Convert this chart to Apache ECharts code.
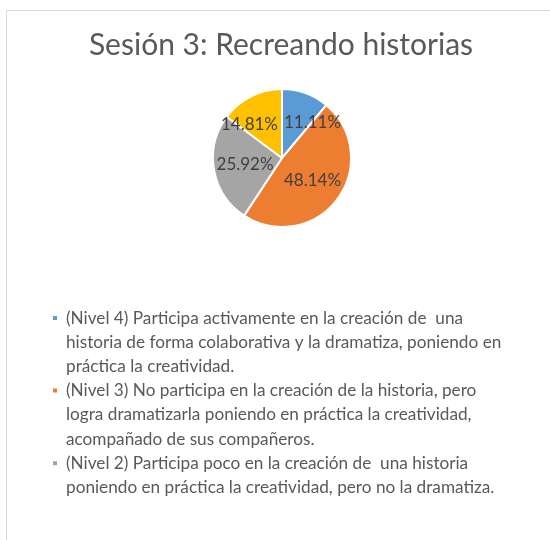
<!DOCTYPE html>
<html>
<head>
<meta charset="utf-8">
<script src="https://cdn.jsdelivr.net/npm/echarts@6/dist/echarts.min.js"></script>
<style>
    html, body { margin: 0; padding: 0; background: #fff; width: 550px; height: 540px; overflow: hidden; }
    #frame { position: absolute; left: 6px; top: 10px; width: 600px; height: 600px; border: 1px solid #d9d9d9; }
    #chart { position: absolute; left: 6px; top: 10px; width: 550px; height: 530px; }
</style>
</head>
<body>
<div id="frame"></div>
<div id="chart"></div>
<script>
const TITLE = 'Sesión 3: Recreando historias';

const levels = ['Nivel 4', 'Nivel 3', 'Nivel 2', 'Nivel 1'];
const shares = [11.11, 48.14, 25.92, 14.81];
const colors = ['#5b9bd5', '#ed7d31', '#a5a5a5', '#ffc000'];

// legend text, already wrapped like the original
const legendLines = {
    'Nivel 4': [
        '(Nivel 4) Participa activamente en la creación de  una',
        'historia de forma colaborativa y la dramatiza, poniendo en',
        'práctica la creatividad.',
    ],
    'Nivel 3': [
        '(Nivel 3) No participa en la creación de la historia, pero',
        'logra dramatizarla poniendo en práctica la creatividad,',
        'acompañado de sus compañeros.',
    ],
    'Nivel 2': [
        '(Nivel 2) Participa poco en la creación de  una historia',
        'poniendo en práctica la creatividad, pero no la dramatiza.',
    ],
};
const shownInLegend = ['Nivel 4', 'Nivel 3', 'Nivel 2'];

const LINE_H = 24.2;
const FONT = 'Lato, "Open Sans", sans-serif';

// legend text is centred on the marker, so pad with blank lines
// to keep the marker next to the first line
function legendText(name) {
    const lines = legendLines[name] || [name];
    const padded = ['', ''].concat(lines);
    while (padded.length < 5) padded.push('');
    return padded.join('\n');
}

const chart = echarts.init(document.getElementById('chart'));
const cx = 276, cy = 148;

chart.setOption({
    backgroundColor: 'transparent',
    animation: false,
    color: colors,
    title: {
        text: TITLE,
        left: 'center',
        top: 15,
        textStyle: { color: '#595959', fontSize: 30, fontWeight: 'normal', fontFamily: FONT },
    },
    legend: {
        data: shownInLegend,
        orient: 'vertical',
        left: 45,
        top: 308 - 2.5 * LINE_H,
        padding: 0,
        itemWidth: 6,
        itemHeight: 6,
        itemGap: -2 * LINE_H,
        icon: 'rect',
        formatter: legendText,
        textStyle: { color: '#595959', fontSize: 17.2, fontFamily: FONT, lineHeight: LINE_H, padding: [0, 0, 0, 3] },
    },
    series: [{
        type: 'pie',
        center: [cx, cy],
        radius: [0, 69],
        startAngle: 90,
        clockwise: true,
        data: levels.map((n, i) => ({ name: n, value: shares[i] })),
        itemStyle: { borderColor: '#fff', borderWidth: 2 },
        label: {
            show: true,
            position: 'inside',
            formatter: p => p.value.toFixed(2) + '%',
            color: '#404040',
            fontSize: 17,
            fontFamily: FONT,
        },
        labelLine: { show: false },
        // keep labels off the vertical centre line, like the "best fit" labels
        labelLayout: p => {
            const r = p.labelRect;
            let x = r.x + r.width / 2;
            const y = r.y + r.height / 2;
            if (x >= cx) x = Math.max(x, cx + r.width / 2 + 2);
            else x = Math.min(x, cx - r.width / 2 - 4);
            return { x, y, align: 'center', verticalAlign: 'middle' };
        },
        emphasis: { disabled: true },
    }],
});
</script>
</body>
</html>
